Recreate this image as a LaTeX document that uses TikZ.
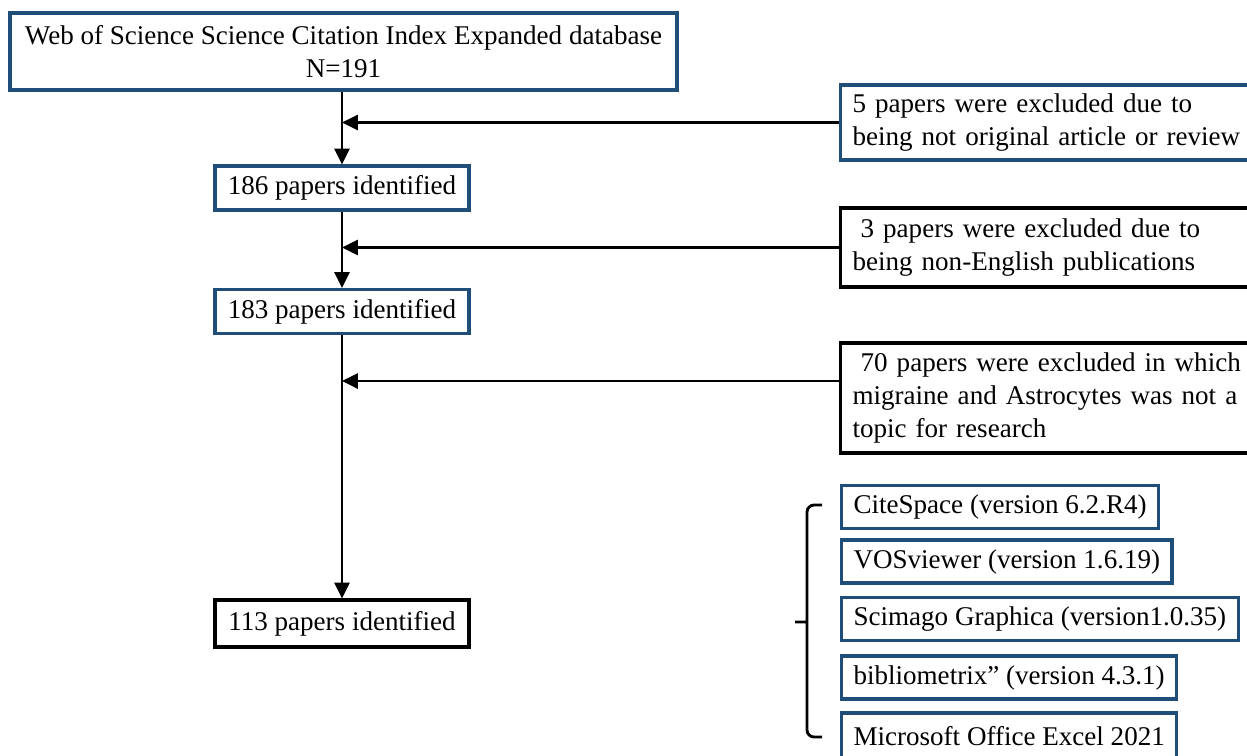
\documentclass[tikz,border=0pt]{standalone}
\usepackage{fontspec}
\setmainfont{Liberation Serif}
\usetikzlibrary{positioning, arrows.meta, calc}
\definecolor{boxblue}{HTML}{1F4E79}

\begin{document}
\begin{tikzpicture}[
  x=0.02cm, y=-0.02cm,
  box/.style={
    draw=boxblue, line width=1.8pt, fill=white,
    minimum width=5.08cm, minimum height=0.88cm,
    align=center, inner sep=0pt,
    font=\fontsize{15.4}{18.6}\selectfont
  },
  excl/.style={
    draw=black, line width=1.8pt, fill=white,
    anchor=west, text width=7.9cm, inner xsep=6.8pt,
    align=left, font=\fontsize{15.4}{18.6}\selectfont
  },
  tool/.style={
    draw=boxblue, line width=1.8pt, fill=white,
    anchor=west, inner xsep=6.8pt, minimum height=0.86cm,
    align=left, font=\fontsize{15.4}{18.6}\selectfont
  },
  arrow/.style={-{Triangle[length=9pt, width=8.5pt]}, line width=1.6pt, black}
]
\useasboundingbox (0,0) rectangle (1247,755);

% ---- Sélection ----
\node[box, minimum width=13.34cm, minimum height=1.54cm] (db) at (343.5,51.5) {
  Web of Science Science Citation Index Expanded database\\
  N=191
};
\node[box] (p186) at (342,188) {186 papers identified};
\node[box] (p183) at (342,311.5) {183 papers identified};
\node[box, draw=black, minimum height=0.94cm] (p113) at (342,623.5) {113 papers identified};

% ---- Exclusions ----
\node[excl, draw=boxblue, minimum height=1.5cm] (ex1) at (839,122.5) {
  5 papers were excluded due to\\
  being not original article or review
};
\node[excl, minimum height=1.58cm] (ex2) at (839,247.5) {
  \hspace{0.3em}3 papers were excluded due to\\
  being non-English publications
};
\node[excl, minimum height=2.2cm] (ex3) at (839,398) {
  \hspace{0.3em}70 papers were excluded in which\\
  migraine and Astrocytes was not a\\
  topic for research
};

% Flèches principales
\draw[arrow] (db.south -| p186.north) -- (p186.north);
\draw[arrow] (p186.south) -- (p183.north);
\draw[arrow] (p183.south) -- (p113.north);

% Flèches d'exclusion
\draw[arrow] (ex1.west) -- (ex1.west -| p186.north);
\draw[arrow] (ex2.west) -- (ex2.west -| p186.north);
\coordinate (ex3in) at ($(ex3.north west)!0.35!(ex3.south west)$);
\draw[arrow] (ex3in) -- (ex3in -| p186.north);

% ---- Outils ----
\node[tool] (cs) at (840,507) {CiteSpace (version 6.2.R4)};
\node[tool] (vos) at (840,561.5) {VOSviewer (version 1.6.19)};
\node[tool] (sci) at (840,619) {Scimago Graphica (version1.0.35)};
\node[tool] (bib) at (840,677.5) {bibliometrix'' (version 4.3.1)};
\node[tool, minimum height=0.94cm] (exc) at (840,736.5) {Microsoft Office Excel 2021};

% Accolade
\coordinate (btop) at ($(cs.west)+(-18,-2)$);
\coordinate (bbot) at ($(exc.west)+(-18,0.5)$);
\draw[line width=1.6pt, rounded corners=4pt]
  (btop) -- ++(-15,0) -- ++(0,110) to[out=-90,in=0] ++(-16,7)
  to[out=0,in=90] ++(16,7) -- (bbot -| 807,0) -- (bbot);

\end{tikzpicture}
\end{document}
